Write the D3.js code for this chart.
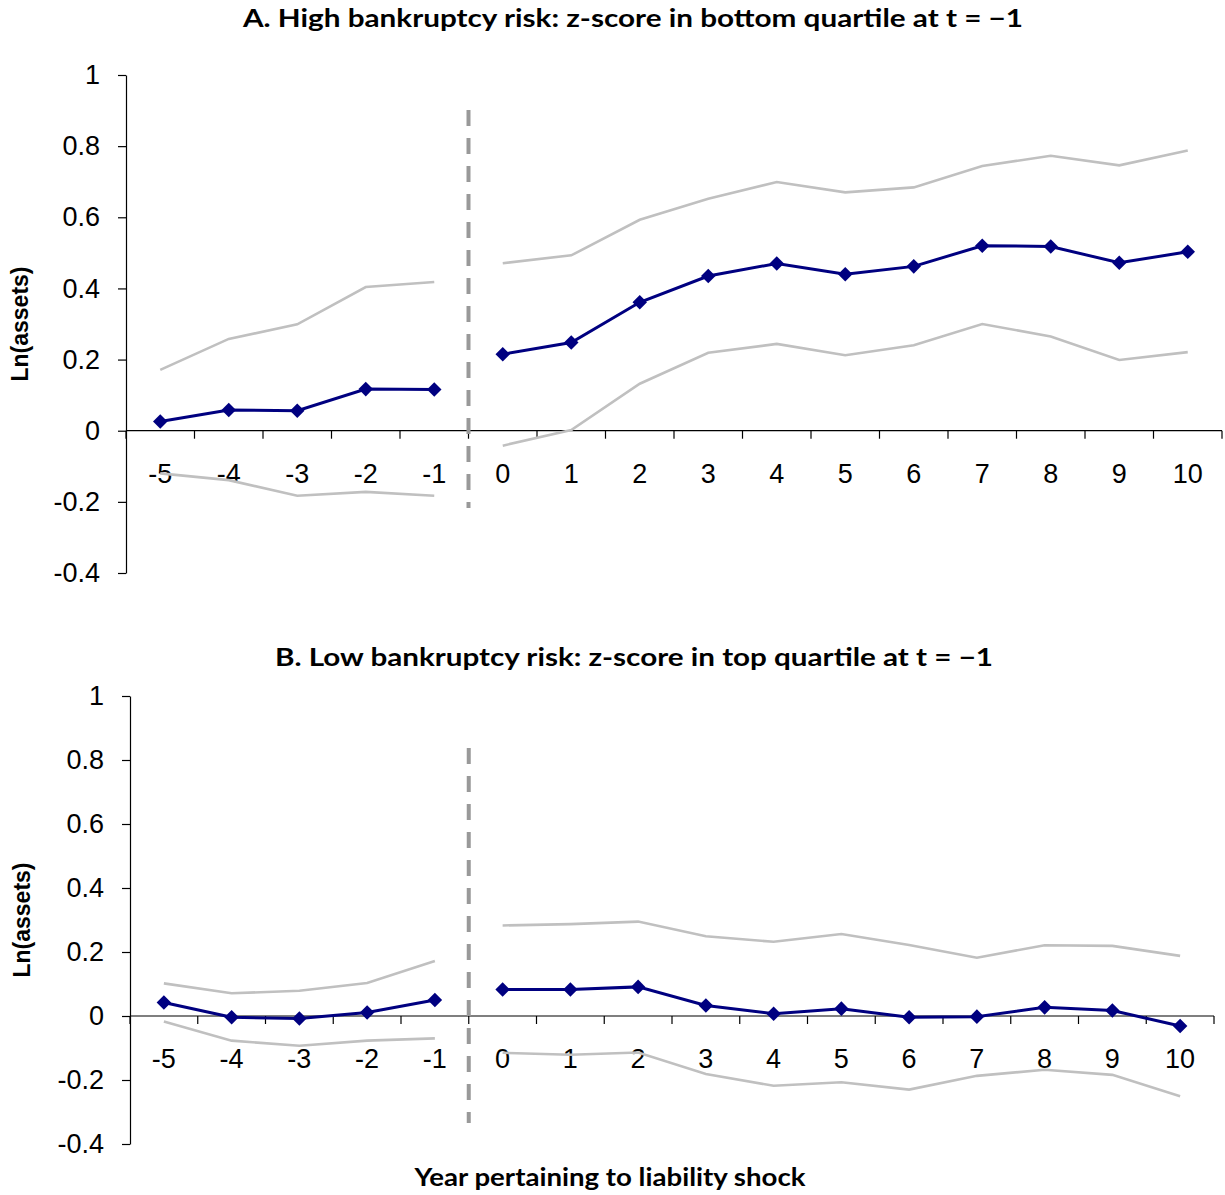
<!DOCTYPE html>
<html><head><meta charset="utf-8">
<script src="https://cdn.jsdelivr.net/npm/d3@7"></script>
<style>body{margin:0;background:#fff}</style>
</head><body>
<svg id="chart" width="1225" height="1195"></svg>
<script>
// ---------- data ----------
const years = ["-5","-4","-3","-2","-1","0","1","2","3","4","5","6","7","8","9","10"];
const preYears = ["-5","-4","-3","-2","-1"];
const postYears = ["0","1","2","3","4","5","6","7","8","9","10"];
const yTicks = [-0.4,-0.2,0,0.2,0.4,0.6,0.8,1];

const titleA = "A. High bankruptcy risk: z-score in bottom quartile at t = \u22121";
const titleB = "B. Low bankruptcy risk: z-score in top quartile at t = \u22121";
const yTitle = "Ln(assets)";
const xTitle = "Year pertaining to liability shock";

const meanA  = [0.026,0.058,0.056,0.117,0.116, 0.215,0.248,0.361,0.435,0.470,0.440,0.462,0.520,0.518,0.472,0.503];
const upperA = [0.171,0.258,0.299,0.404,0.418, 0.471,0.493,0.593,0.652,0.699,0.670,0.684,0.744,0.773,0.746,0.788];
const lowerA = [-0.120,-0.139,-0.183,-0.172,-0.183, -0.042,0.002,0.132,0.219,0.244,0.212,0.240,0.300,0.265,0.199,0.221];

const meanB  = [0.042,-0.004,-0.008,0.011,0.050, 0.083,0.083,0.091,0.033,0.007,0.023,-0.004,-0.002,0.027,0.017,-0.031];
const upperB = [0.102,0.071,0.079,0.103,0.172, 0.283,0.287,0.295,0.249,0.232,0.256,0.222,0.182,0.221,0.219,0.188];
const lowerB = [-0.017,-0.077,-0.093,-0.077,-0.070, -0.115,-0.121,-0.114,-0.181,-0.218,-0.207,-0.230,-0.187,-0.168,-0.184,-0.251];

// ---------- drawing ----------
const svg = d3.select("#chart");
const NAVY = "#000080", GRAY = "#c0c0c0";
const TICKFONT = "'Liberation Sans', Arial, sans-serif";

function panel(cfg) {
  const g = svg.append("g");
  const x = d3.scaleBand().domain(years).range([cfg.left, cfg.right]).padding(0);
  const y = d3.scaleLinear().domain([-0.4, 1]).range([cfg.bottom, cfg.top]);
  const cx = d => x(d) + x.bandwidth() / 2;

  // title
  g.append("text").attr("x", cfg.titleX).attr("y", cfg.titleY)
    .attr("text-anchor", "middle")
    .attr("font-family", "Lato, 'Open Sans', sans-serif").attr("font-weight", "bold")
    .attr("font-size", 25)
    .attr("textLength", cfg.titleLen).attr("lengthAdjust", "spacingAndGlyphs")
    .text(cfg.title);

  // y axis
  const yAxis = d3.axisLeft(y).tickValues(yTicks).tickSize(8).tickSizeOuter(0).tickPadding(18)
    .tickFormat(d => String(+d.toFixed(1)));
  const ya = g.append("g").attr("transform", `translate(${cfg.left},0)`).call(yAxis);
  ya.attr("font-size", null).attr("font-family", null);
  ya.selectAll("text").attr("font-family", TICKFONT).attr("font-size", 27).attr("fill", "#000");
  ya.selectAll("line,path").attr("stroke", "#000").attr("stroke-width", 1.2);

  // y title
  g.append("text")
    .attr("transform", `translate(${cfg.yTitleX},${(cfg.top + cfg.bottom) / 2}) rotate(-90)`)
    .attr("text-anchor", "middle").attr("dominant-baseline", "central")
    .attr("font-family", TICKFONT).attr("font-weight", "bold")
    .attr("font-size", 23).text(yTitle);

  // x axis (zero line) with category boundary ticks
  const y0 = y(0);
  g.append("line").attr("x1", cfg.left).attr("x2", cfg.right).attr("y1", y0).attr("y2", y0)
    .attr("stroke", "#000").attr("stroke-width", 1.2);
  const bounds = years.map(d => x(d)).concat([cfg.right]);
  g.selectAll(".xt").data(bounds).join("line")
    .attr("x1", d => d).attr("x2", d => d).attr("y1", y0).attr("y2", y0 + 8)
    .attr("stroke", "#000").attr("stroke-width", 1.2);
  g.selectAll(".xl").data(years).join("text")
    .attr("x", d => cx(d)).attr("y", y0 + 43)
    .attr("text-anchor", "middle").attr("dominant-baseline", "central")
    .attr("font-family", TICKFONT).attr("font-size", 27)
    .text(d => d);

  // dashed separator between -1 and 0
  const sx = x("0");
  g.append("line").attr("x1", sx).attr("x2", sx).attr("y1", cfg.dashTop).attr("y2", cfg.dashBottom)
    .attr("stroke", "#999").attr("stroke-width", 4).attr("stroke-dasharray", "16,12");

  const line = d3.line().x(d => cx(d.k)).y(d => y(d.v));
  const seg = (arr, keys) => keys.map(k => ({ k, v: arr[years.indexOf(k)] }));

  [cfg.upper, cfg.lower].forEach(arr => {
    [preYears, postYears].forEach(keys => {
      g.append("path").attr("d", line(seg(arr, keys)))
        .attr("fill", "none").attr("stroke", GRAY).attr("stroke-width", 2.6);
    });
  });
  [preYears, postYears].forEach(keys => {
    g.append("path").attr("d", line(seg(cfg.mean, keys)))
      .attr("fill", "none").attr("stroke", NAVY).attr("stroke-width", 3);
  });
  const sym = d3.symbol(d3.symbolSquare, 106);
  g.selectAll(".mk").data(seg(cfg.mean, years)).join("path")
    .attr("d", sym)
    .attr("transform", d => `translate(${cx(d.k)},${y(d.v)}) rotate(45)`)
    .attr("fill", NAVY);
}

panel({ title: titleA, titleX: 633, titleY: 27, titleLen: 780,
  left: 126, right: 1222, top: 75, bottom: 573, yTitleX: 20,
  dashTop: 110, dashBottom: 508,
  mean: meanA, upper: upperA, lower: lowerA });

panel({ title: titleB, titleX: 634, titleY: 666, titleLen: 718,
  left: 130, right: 1214, top: 696, bottom: 1144, yTitleX: 22,
  dashTop: 748, dashBottom: 1123,
  mean: meanB, upper: upperB, lower: lowerB });

svg.append("text").attr("x", 610).attr("y", 1186).attr("text-anchor", "middle")
  .attr("font-family", "Lato, 'Open Sans', sans-serif").attr("font-weight", "bold")
  .attr("font-size", 25).attr("textLength", 391).attr("lengthAdjust", "spacingAndGlyphs")
  .text(xTitle);
</script>
</body></html>
